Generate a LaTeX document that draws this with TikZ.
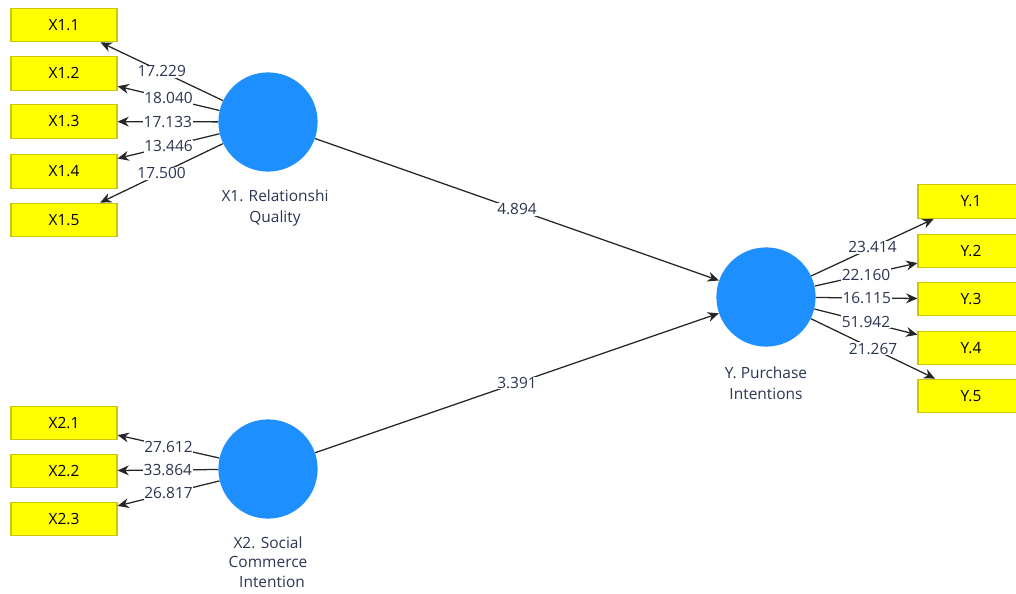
\documentclass[tikz,border=0pt]{standalone}
\usepackage{fontspec}
\setmainfont{Open Sans}
\usepackage{xcolor}
\usepackage{tikz}
\usetikzlibrary{arrows.meta}

\definecolor{itemfill}{HTML}{FFFF00}
\definecolor{itemdraw}{HTML}{C9C900}
\definecolor{latentfill}{HTML}{1E8FFF}
\definecolor{pathgray}{HTML}{262626}
\definecolor{labeltext}{HTML}{2B3550}

\tikzset{
    indicator/.style={rectangle, draw=itemdraw, line width=0.8pt, fill=itemfill,
        minimum width=2.65cm, minimum height=0.84cm, inner sep=0pt, font=\fontsize{11}{13}\selectfont},
    latent/.style={circle, fill=latentfill, minimum size=2.48cm, inner sep=0pt},
    latentname/.style={align=center, text=labeltext, font=\fontsize{11}{14.5}\selectfont},
    pathline/.style={-{Stealth[length=8pt,width=7pt]}, draw=pathgray, line width=0.9pt},
    weight/.style={midway, fill=white, inner sep=0.5pt, text=labeltext, font=\fontsize{11}{13}\selectfont}
}

\begin{document}
\begin{tikzpicture}[x=0.025cm, y=-0.025cm]
    \useasboundingbox (0,0) rectangle (1016,593);
    \clip (0,0) rectangle (1016,593);

    % Latent variables
    \node[latent] (x1) at (268,122) {};
    \node[latent] (x2) at (268,469) {};
    \node[latent] (y) at (766,297) {};

    \node[latentname] (x1name) at (275,208) {X1. Relationshi\\Quality};
    \node[latentname, font=\fontsize{11}{14}\selectfont] (x2name) at (268,562) {X2. Social\\Commerce\\\ \ Intention};
    \node[latentname] (yname) at (766,383) {Y. Purchase\\Intentions};

    % Indicators of X1
    \node[indicator] (x11) at (64,25) {X1.1};
    \node[indicator] (x12) at (64,73.5) {X1.2};
    \node[indicator] (x13) at (64,121.5) {X1.3};
    \node[indicator] (x14) at (64,171.5) {X1.4};
    \node[indicator] (x15) at (64,220) {X1.5};

    % Indicators of X2
    \node[indicator] (x21) at (64,423) {X2.1};
    \node[indicator] (x22) at (64,471) {X2.2};
    \node[indicator] (x23) at (64,519) {X2.3};

    % Indicators of Y
    \node[indicator] (y1) at (971,201.5) {Y.1};
    \node[indicator] (y2) at (971,251) {Y.2};
    \node[indicator] (y3) at (971,299) {Y.3};
    \node[indicator] (y4) at (971,348) {Y.4};
    \node[indicator] (y5) at (971,396) {Y.5};

    % Outer loadings
    \draw[pathline] (x1) -- (x11) node[weight] {17.229};
    \draw[pathline] (x1) -- (x12) node[weight] {18.040};
    \draw[pathline] (x1) -- (x13) node[weight] {17.133};
    \draw[pathline] (x1) -- (x14) node[weight] {13.446};
    \draw[pathline] (x1) -- (x15) node[weight] {17.500};

    \draw[pathline] (x2) -- (x21) node[weight] {27.612};
    \draw[pathline] (x2) -- (x22) node[weight] {33.864};
    \draw[pathline] (x2) -- (x23) node[weight] {26.817};

    \draw[pathline] (y) -- (y1) node[weight] {23.414};
    \draw[pathline] (y) -- (y2) node[weight] {22.160};
    \draw[pathline] (y) -- (y3) node[weight] {16.115};
    \draw[pathline] (y) -- (y4) node[weight] {51.942};
    \draw[pathline] (y) -- (y5) node[weight] {21.267};

    % Inner model
    \draw[pathline] (x1) -- (y) node[weight] {4.894};
    \draw[pathline] (x2) -- (y) node[weight] {3.391};
\end{tikzpicture}
\end{document}
